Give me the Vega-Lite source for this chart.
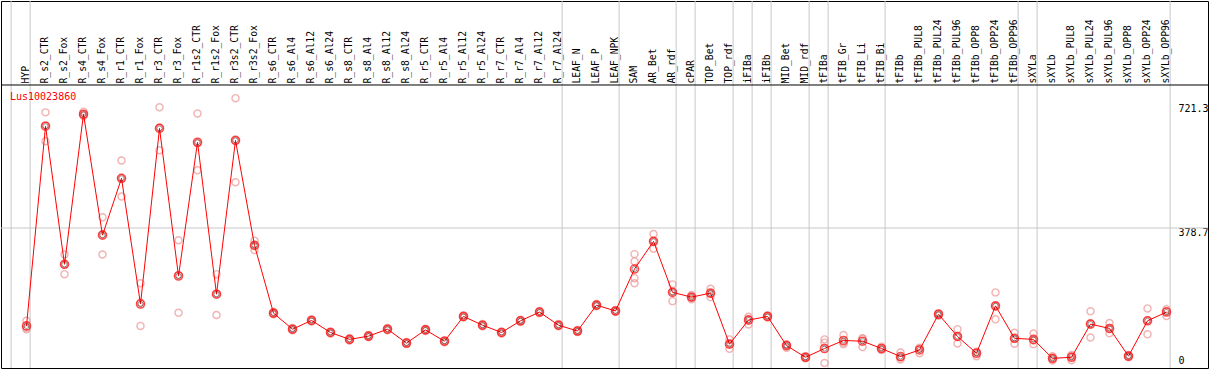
{
  "$schema": "https://vega.github.io/schema/vega-lite/v6.json",
  "autosize": {"type": "none"},
  "padding": {"left": 1, "top": 1, "right": 1, "bottom": 1},
  "width": 1207,
  "height": 367,
  "background": "white",
  "config": {"view": {"stroke": "black", "strokeWidth": 1}},
  "datasets": {
    "expr": [
      {"sample": "HYP", "mean": 110, "rep": [124, 105, 101], "b": true},
      {"sample": "R_s2_CTR", "mean": 658, "rep": [696, 660, 617], "b": false},
      {"sample": "R_s2_Fox", "mean": 279, "rep": [306, 279, 252], "b": false},
      {"sample": "R_s4_CTR", "mean": 691, "rep": [698, 690, 686], "b": false},
      {"sample": "R_s4_Fox", "mean": 359, "rep": [408, 361, 306], "b": false},
      {"sample": "R_r1_CTR", "mean": 515, "rep": [564, 515, 465], "b": false},
      {"sample": "R_r1_Fox", "mean": 170, "rep": [227, 174, 110], "b": false},
      {"sample": "R_r3_CTR", "mean": 652, "rep": [710, 654, 592], "b": false},
      {"sample": "R_r3_Fox", "mean": 247, "rep": [345, 250, 146], "b": false},
      {"sample": "R_r1s2_CTR", "mean": 614, "rep": [693, 612, 537], "b": false},
      {"sample": "R_r1s2_Fox", "mean": 197, "rep": [252, 198, 140], "b": false},
      {"sample": "R_r3s2_CTR", "mean": 619, "rep": [735, 619, 504], "b": false},
      {"sample": "R_r3s2_Fox", "mean": 331, "rep": [344, 331, 318], "b": false},
      {"sample": "R_s6_CTR", "mean": 145, "rep": [148, 145, 142], "b": false},
      {"sample": "R_s6_Al4", "mean": 101, "rep": [104, 101, 98], "b": false},
      {"sample": "R_s6_Al12", "mean": 125, "rep": [128, 125, 122], "b": false},
      {"sample": "R_s6_Al24", "mean": 92, "rep": [95, 92, 89], "b": false},
      {"sample": "R_s8_CTR", "mean": 73, "rep": [76, 73, 70], "b": false},
      {"sample": "R_s8_Al4", "mean": 82, "rep": [85, 82, 79], "b": false},
      {"sample": "R_s8_Al12", "mean": 101, "rep": [104, 101, 98], "b": false},
      {"sample": "R_s8_Al24", "mean": 63, "rep": [66, 63, 60], "b": false},
      {"sample": "R_r5_CTR", "mean": 99, "rep": [102, 99, 96], "b": false},
      {"sample": "R_r5_Al4", "mean": 68, "rep": [71, 68, 65], "b": false},
      {"sample": "R_r5_Al12", "mean": 136, "rep": [139, 136, 133], "b": false},
      {"sample": "R_r5_Al24", "mean": 112, "rep": [115, 112, 109], "b": false},
      {"sample": "R_r7_CTR", "mean": 92, "rep": [95, 92, 89], "b": false},
      {"sample": "R_r7_Al4", "mean": 124, "rep": [127, 124, 121], "b": false},
      {"sample": "R_r7_Al12", "mean": 148, "rep": [151, 148, 145], "b": false},
      {"sample": "R_r7_Al24", "mean": 112, "rep": [115, 112, 109], "b": true},
      {"sample": "LEAF_N", "mean": 96, "rep": [99, 96, 93], "b": false},
      {"sample": "LEAF_P", "mean": 167, "rep": [170, 167, 164], "b": false},
      {"sample": "LEAF_NPK", "mean": 151, "rep": [154, 151, 148], "b": true},
      {"sample": "SAM", "mean": 266, "rep": [307, 287, 241, 227], "b": false},
      {"sample": "AR_Bet", "mean": 342, "rep": [362, 342, 322], "b": false},
      {"sample": "AR_rdf", "mean": 202, "rep": [224, 204, 178], "b": true},
      {"sample": "cPAR", "mean": 189, "rep": [195, 189, 183], "b": true},
      {"sample": "TOP_Bet", "mean": 200, "rep": [212, 199, 189], "b": false},
      {"sample": "TOP_rdf", "mean": 60, "rep": [73, 61, 47], "b": true},
      {"sample": "iFIBa", "mean": 126, "rep": [135, 128, 114], "b": true},
      {"sample": "iFIBb", "mean": 136, "rep": [139, 136, 133], "b": true},
      {"sample": "MID_Bet", "mean": 56, "rep": [60, 57, 50], "b": false},
      {"sample": "MID_rdf", "mean": 24, "rep": [27, 24, 21], "b": true},
      {"sample": "tFIBa", "mean": 48, "rep": [73, 64, 8], "b": true},
      {"sample": "tFIB_Gr", "mean": 70, "rep": [85, 64, 60], "b": false},
      {"sample": "tFIB_Li", "mean": 68, "rep": [75, 76, 52], "b": false},
      {"sample": "tFIB_Bi", "mean": 48, "rep": [53, 48, 44], "b": true},
      {"sample": "tFIBb", "mean": 26, "rep": [37, 23, 18], "b": false},
      {"sample": "tFIBb_PUL8", "mean": 44, "rep": [50, 47, 35], "b": false},
      {"sample": "tFIBb_PUL24", "mean": 142, "rep": [145, 142, 138], "b": false},
      {"sample": "tFIBb_PUL96", "mean": 81, "rep": [101, 81, 62], "b": false},
      {"sample": "tFIBb_OPP8", "mean": 35, "rep": [39, 38, 27], "b": false},
      {"sample": "tFIBb_OPP24", "mean": 165, "rep": [202, 164, 128], "b": false},
      {"sample": "tFIBb_OPP96", "mean": 76, "rep": [91, 75, 61], "b": true},
      {"sample": "sXYLa", "mean": 73, "rep": [89, 70, 60], "b": true},
      {"sample": "sXYLb", "mean": 21, "rep": [27, 21, 15], "b": false},
      {"sample": "sXYLb_PUL8", "mean": 24, "rep": [30, 26, 16], "b": false},
      {"sample": "sXYLb_PUL24", "mean": 115, "rep": [150, 117, 78], "b": false},
      {"sample": "sXYLb_PUL96", "mean": 103, "rep": [118, 103, 90], "b": false},
      {"sample": "sXYLb_OPP8", "mean": 27, "rep": [30, 27, 24], "b": false},
      {"sample": "sXYLb_OPP24", "mean": 124, "rep": [158, 125, 87], "b": false},
      {"sample": "sXYLb_OPP96", "mean": 148, "rep": [156, 151, 137], "b": true}
    ],
    "one": [{"label": "Lus10023860"}]
  },
  "data": {"name": "expr"},
  "layer": [
    {
      "transform": [{"filter": "datum.b"}],
      "mark": {"type": "rule", "color": "#c8c8c8", "strokeWidth": 1},
      "encoding": {
        "x": {
          "field": "sample",
          "type": "nominal",
          "title": null,
          "bandPosition": 0.69,
          "scale": {
            "domain": ["HYP","R_s2_CTR","R_s2_Fox","R_s4_CTR","R_s4_Fox","R_r1_CTR","R_r1_Fox","R_r3_CTR","R_r3_Fox","R_r1s2_CTR","R_r1s2_Fox","R_r3s2_CTR","R_r3s2_Fox","R_s6_CTR","R_s6_Al4","R_s6_Al12","R_s6_Al24","R_s8_CTR","R_s8_Al4","R_s8_Al12","R_s8_Al24","R_r5_CTR","R_r5_Al4","R_r5_Al12","R_r5_Al24","R_r7_CTR","R_r7_Al4","R_r7_Al12","R_r7_Al24","LEAF_N","LEAF_P","LEAF_NPK","SAM","AR_Bet","AR_rdf","cPAR","TOP_Bet","TOP_rdf","iFIBa","iFIBb","MID_Bet","MID_rdf","tFIBa","tFIB_Gr","tFIB_Li","tFIB_Bi","tFIBb","tFIBb_PUL8","tFIBb_PUL24","tFIBb_PUL96","tFIBb_OPP8","tFIBb_OPP24","tFIBb_OPP96","sXYLa","sXYLb","sXYLb_PUL8","sXYLb_PUL24","sXYLb_PUL96","sXYLb_OPP8","sXYLb_OPP24","sXYLb_OPP96"],
            "type": "band",
            "range": [16, 1175],
            "paddingInner": 0,
            "paddingOuter": 0
          },
          "axis": {
            "orient": "top",
            "offset": -84,
            "ticks": false,
            "grid": false,
            "domain": false,
            "labelAngle": 270,
            "labelAlign": "left",
            "labelBaseline": "middle",
            "labelPadding": 2,
            "labelOffset": -1,
            "labelFont": "DejaVu Sans Mono",
            "labelFontSize": 9.7,
            "labelColor": "black",
            "labelOverlap": false,
            "labelBound": false,
            "labelFlush": false
          }
        }
      }
    },
    {
      "data": {"name": "one"},
      "mark": {"type": "rule", "color": "#c8c8c8", "strokeWidth": 1},
      "encoding": {"x": {"datum": "HYP", "type": "nominal", "bandPosition": -0.31}}
    },
    {
      "data": {"name": "one"},
      "mark": {"type": "rule", "color": "#c8c8c8", "strokeWidth": 1},
      "encoding": {"y": {"datum": 378.7, "type": "quantitative", "scale": {"domain": [-5.5, 1001.6], "nice": false, "zero": false}}}
    },
    {
      "data": {"name": "one"},
      "mark": {"type": "rule", "color": "black", "strokeWidth": 1},
      "encoding": {"y": {"datum": 771.1, "type": "quantitative"}}
    },
    {
      "data": {"name": "one"},
      "mark": {"type": "text", "color": "#ff0000", "font": "DejaVu Sans Mono", "fontSize": 10, "align": "left", "baseline": "middle"},
      "encoding": {
        "x": {"datum": "HYP", "type": "nominal", "bandPosition": -0.37},
        "y": {"datum": 737, "type": "quantitative"},
        "text": {"field": "label"}
      }
    },
    {
      "transform": [{"flatten": ["rep"]}],
      "mark": {"type": "point", "shape": "circle", "filled": false, "color": "#ec9494", "strokeWidth": 1.4, "size": 50},
      "encoding": {
        "x": {"field": "sample", "type": "nominal"},
        "y": {"field": "rep", "type": "quantitative"}
      }
    },
    {
      "mark": {"type": "line", "color": "#ff0000", "strokeWidth": 1},
      "encoding": {
        "x": {"field": "sample", "type": "nominal"},
        "y": {
          "field": "mean",
          "type": "quantitative",
          "title": null,
          "scale": {"domain": [-5.5, 1001.6], "nice": false, "zero": false},
          "axis": {
            "orient": "right",
            "offset": -30,
            "values": [0, 378.7, 721.3],
            "labelExpr": "datum.value == 0 ? '0' : format(datum.value, '.1f')",
            "ticks": false,
            "domain": false,
            "grid": false,
            "labelPadding": 0,
            "labelAlign": "left",
            "labelBaseline": {"condition": {"test": "datum.value == 0", "value": "bottom"}, "value": "top"},
            "labelFont": "DejaVu Sans Mono",
            "labelFontSize": 10,
            "labelColor": "black",
            "labelBound": false,
            "labelFlush": false,
            "labelOverlap": false
          }
        },
        "order": {"value": null}
      }
    },
    {
      "mark": {"type": "point", "shape": "circle", "filled": false, "color": "black", "strokeWidth": 0.6, "size": 26},
      "encoding": {
        "x": {"field": "sample", "type": "nominal"},
        "y": {"field": "mean", "type": "quantitative"}
      }
    },
    {
      "mark": {"type": "point", "shape": "circle", "filled": false, "color": "#ff0000", "strokeWidth": 1.6, "size": 64},
      "encoding": {
        "x": {"field": "sample", "type": "nominal"},
        "y": {"field": "mean", "type": "quantitative"}
      }
    }
  ]
}
